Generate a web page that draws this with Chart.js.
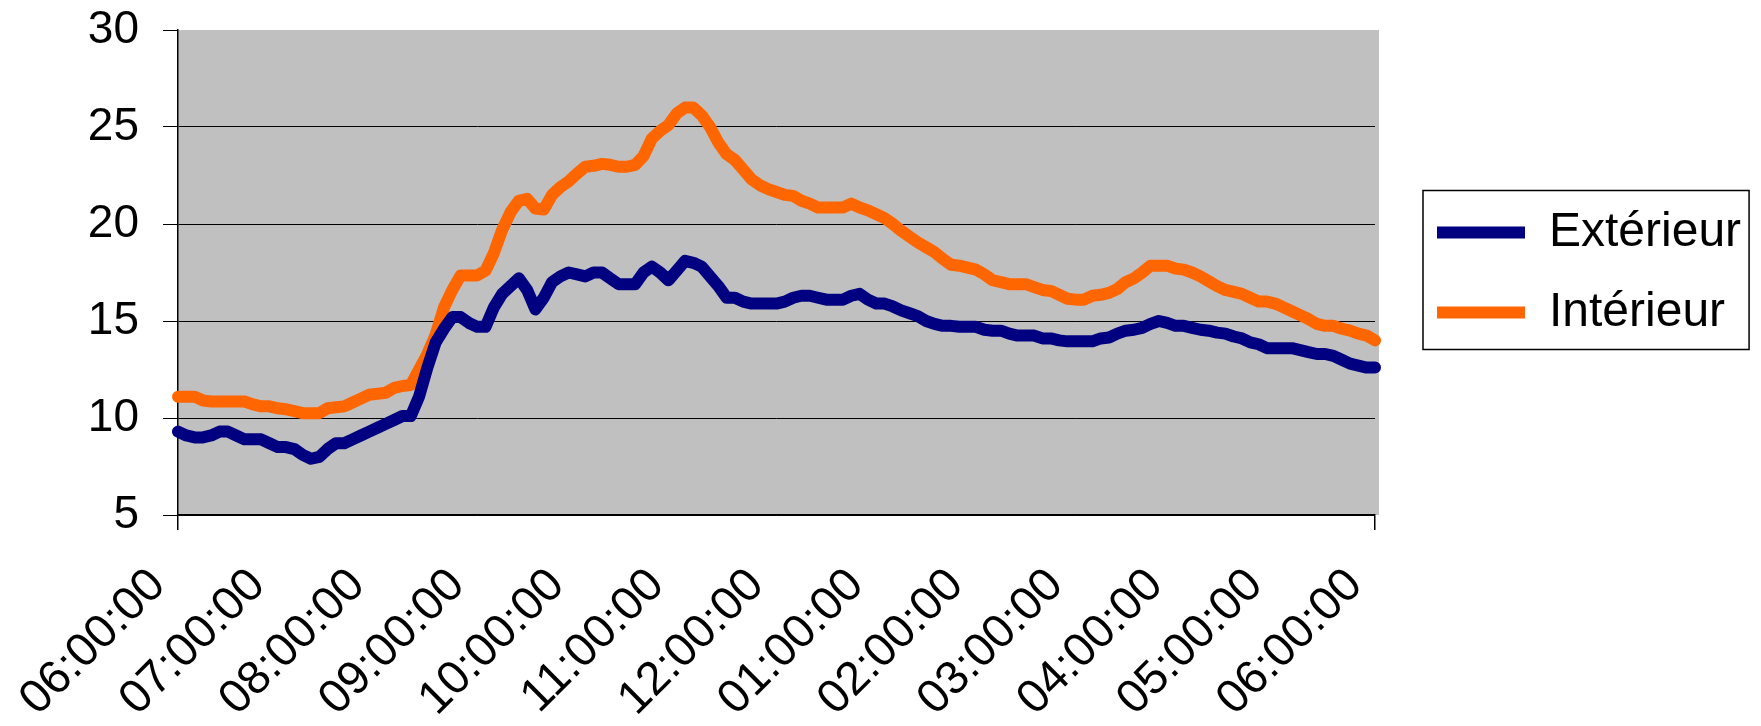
<!DOCTYPE html>
<html lang="fr">
<head>
<meta charset="UTF-8">
<title>Températures</title>
<script src="https://cdn.jsdelivr.net/npm/chart.js"></script>
<style>
    html, body { margin: 0; padding: 0; background: #fff; }
    #wrap { width: 1761px; height: 726px; }
</style>
</head>
<body>
<div id="wrap"><canvas id="tempChart" width="1761" height="726"></canvas></div>
<script>
// heures affichées sur l'axe (une graduation par heure)
const hourLabels = ['06:00:00', '07:00:00', '08:00:00', '09:00:00', '10:00:00', '11:00:00',
    '12:00:00', '01:00:00', '02:00:00', '03:00:00', '04:00:00', '05:00:00', '06:00:00'];
const minuteSteps = ['00', '05', '10', '15', '20', '25', '30', '35', '40', '45', '50', '55'];
const yTicks = [5, 10, 15, 20, 25, 30];

// relevés toutes les 5 minutes, une ligne par heure
const exterieur = [
    9.3, 9.1, 9.0, 9.0, 9.1, 9.3, 9.3, 9.1, 8.9, 8.9, 8.9, 8.7,
    8.5, 8.5, 8.4, 8.1, 7.9, 8.0, 8.4, 8.7, 8.7, 8.9, 9.1, 9.3,
    9.5, 9.7, 9.9, 10.1, 10.1, 11.1, 12.6, 13.9, 14.6, 15.2, 15.2, 14.9,
    14.7, 14.7, 15.7, 16.4, 16.8, 17.2, 16.6, 15.6, 16.2, 17.0, 17.3, 17.5,
    17.4, 17.3, 17.5, 17.5, 17.2, 16.9, 16.9, 16.9, 17.5, 17.8, 17.5, 17.1,
    17.6, 18.1, 18.0, 17.8, 17.3, 16.8, 16.2, 16.2, 16.0, 15.9, 15.9, 15.9,
    15.9, 16.0, 16.2, 16.3, 16.3, 16.2, 16.1, 16.1, 16.1, 16.3, 16.4, 16.1,
    15.9, 15.9, 15.75, 15.55, 15.4, 15.25, 15.0, 14.85, 14.75, 14.75, 14.7, 14.7,
    14.7, 14.55, 14.5, 14.5, 14.35, 14.25, 14.25, 14.25, 14.1, 14.1, 14.0, 13.95,
    13.95, 13.95, 13.95, 14.1, 14.15, 14.35, 14.5, 14.55, 14.65, 14.85, 15.0, 14.9,
    14.75, 14.75, 14.65, 14.55, 14.5, 14.4, 14.35, 14.2, 14.1, 13.9, 13.8, 13.6,
    13.6, 13.6, 13.6, 13.5, 13.4, 13.3, 13.3, 13.2, 13.0, 12.8, 12.7, 12.6,
    12.6
];
const interieur = [
    11.1, 11.1, 11.1, 10.9, 10.85, 10.85, 10.85, 10.85, 10.85, 10.7, 10.6, 10.6,
    10.5, 10.45, 10.35, 10.25, 10.25, 10.25, 10.5, 10.55, 10.6, 10.8, 11.0, 11.2,
    11.25, 11.3, 11.55, 11.65, 11.7, 12.5, 13.3, 14.3, 15.7, 16.6, 17.35, 17.35,
    17.35, 17.6, 18.5, 19.7, 20.6, 21.2, 21.3, 20.8, 20.75, 21.5, 21.9, 22.2,
    22.6, 22.95, 23.0, 23.1, 23.05, 22.95, 22.95, 23.05, 23.5, 24.4, 24.8, 25.1,
    25.7, 26.0, 26.0, 25.6, 25.0, 24.2, 23.6, 23.3, 22.8, 22.3, 22.0, 21.8,
    21.65, 21.5, 21.45, 21.2, 21.05, 20.85, 20.85, 20.85, 20.85, 21.05, 20.85, 20.7,
    20.5, 20.3, 20.0, 19.65, 19.35, 19.05, 18.8, 18.55, 18.2, 17.9, 17.85, 17.75,
    17.65, 17.4, 17.1, 17.0, 16.9, 16.9, 16.9, 16.75, 16.6, 16.55, 16.35, 16.15,
    16.1, 16.1, 16.3, 16.35, 16.45, 16.65, 17.0, 17.2, 17.5, 17.85, 17.85, 17.85,
    17.7, 17.65, 17.5, 17.3, 17.05, 16.8, 16.6, 16.5, 16.4, 16.2, 16.0, 16.0,
    15.9, 15.7, 15.5, 15.3, 15.1, 14.85, 14.75, 14.75, 14.6, 14.5, 14.35, 14.25,
    14.0
];

// catégories : 06:00:00, 06:05:00 ... 06:00:00
const times = [];
for (let h = 0; h < hourLabels.length - 1; h++) {
    for (const m of minuteSteps) {
        times.push(hourLabels[h].slice(0, 3) + m + ':00');
    }
}
times.push(hourLabels[hourLabels.length - 1]);

// fond gris de la zone de tracé
const plotBackground = {
    id: 'plotBackground',
    beforeDraw(chart) {
        const { ctx, chartArea: a } = chart;
        ctx.save();
        ctx.fillStyle = '#c0c0c0';
        ctx.fillRect(a.left, a.top, a.right - a.left + 4, a.bottom - a.top);
        ctx.restore();
    }
};

// légende décalée vers la droite, avec un cadre
const legendFrame = {
    id: 'legendFrame',
    afterLayout(chart) {
        chart.legend.left += 30;
        chart.legend.right += 30;
    },
    afterDraw(chart) {
        const boxes = chart.legend.legendHitBoxes;
        if (!boxes || !boxes.length) return;
        const left = Math.min(...boxes.map(b => b.left)) - 14;
        const top = Math.min(...boxes.map(b => b.top)) - 18;
        const right = Math.max(...boxes.map(b => b.left + b.width)) + 8;
        const bottom = Math.max(...boxes.map(b => b.top + b.height)) + 13;
        const ctx = chart.ctx;
        ctx.save();
        ctx.strokeStyle = '#000';
        ctx.lineWidth = 1.5;
        ctx.strokeRect(left, top, right - left, bottom - top);
        ctx.restore();
    }
};

const ctx = document.getElementById('tempChart').getContext('2d');
new Chart(ctx, {
    type: 'line',
    data: {
        labels: times,
        datasets: [{
            label: 'Extérieur',
            data: exterieur,
            borderColor: '#000080',
            backgroundColor: '#000080',
            borderWidth: 12,
            borderCapStyle: 'round',
            borderJoinStyle: 'round',
            pointRadius: 0,
            pointStyle: 'line',
            tension: 0
        }, {
            label: 'Intérieur',
            data: interieur,
            borderColor: '#ff6600',
            backgroundColor: '#ff6600',
            borderWidth: 12,
            borderCapStyle: 'round',
            borderJoinStyle: 'round',
            pointRadius: 0,
            pointStyle: 'line',
            tension: 0
        }]
    },
    options: {
        responsive: false,
        animation: false,
        devicePixelRatio: 1,
        layout: { padding: { left: 0, top: 0, right: 10, bottom: 0 } },
        plugins: {
            tooltip: { enabled: false },
            legend: {
                position: 'right',
                align: 'center',
                fullSize: false,
                labels: {
                    usePointStyle: true,
                    pointStyleWidth: 88,
                    boxWidth: 88,
                    padding: 32,
                    color: '#000',
                    font: { family: 'Liberation Sans, Arial, sans-serif', size: 48 }
                }
            }
        },
        scales: {
            x: {
                offset: false,
                // place réservée autour de la zone de tracé
                afterFit: s => {
                    s.paddingLeft = 178;
                    s.paddingRight = 386;
                    s.height = 211;
                },
                grid: {
                    drawOnChartArea: false,
                    drawTicks: true,
                    tickLength: 15,
                    color: c => (c.index % 12 === 0 ? '#000' : 'rgba(0,0,0,0)'),
                    lineWidth: 1.5
                },
                border: { color: '#000', width: 1.5 },
                ticks: {
                    autoSkip: false,
                    minRotation: 45,
                    maxRotation: 45,
                    padding: 28,
                    labelOffset: -20,
                    color: '#000',
                    font: { family: 'Liberation Sans, Arial, sans-serif', size: 47 },
                    callback: (v, i) => (i % 12 === 0 ? hourLabels[i / 12] : null)
                }
            },
            y: {
                min: 5,
                max: 30,
                afterBuildTicks: scale => { scale.ticks = yTicks.map(v => ({ value: v })); },
                afterFit: s => {
                    s.paddingTop = 30;
                    s.paddingBottom = 0;
                },
                grid: {
                    color: c => (c.tick && c.tick.value === 30 ? 'rgba(0,0,0,0)' : '#000'),
                    tickColor: '#000',
                    tickLength: 15,
                    lineWidth: 1
                },
                border: { color: '#000', width: 1.5 },
                ticks: {
                    padding: 24,
                    color: '#000',
                    font: { family: 'Liberation Sans, Arial, sans-serif', size: 46 }
                }
            }
        }
    },
    plugins: [plotBackground, legendFrame]
});
</script>
</body>
</html>
